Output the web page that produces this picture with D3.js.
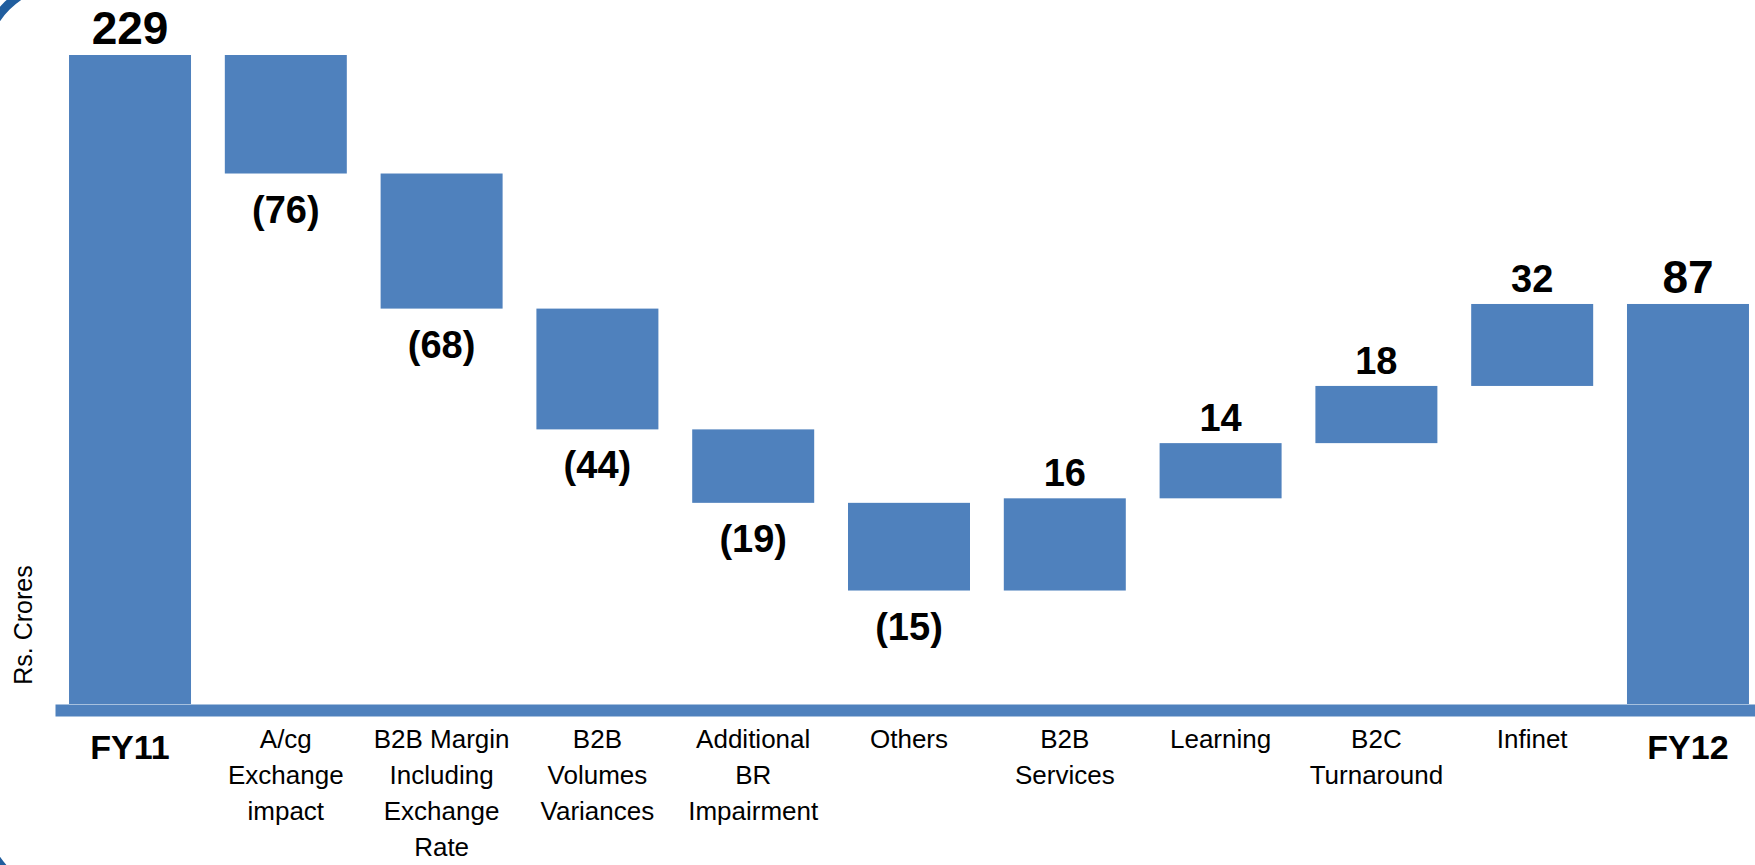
<!DOCTYPE html>
<html>
<head>
<meta charset="utf-8">
<script src="https://cdn.jsdelivr.net/npm/d3@7"></script>
<style>
  html, body { margin: 0; padding: 0; background: #fff; }
  svg { display: block; font-family: "Liberation Sans", Arial, sans-serif; }
</style>
</head>
<body>
<svg id="chart" width="1755" height="865"></svg>
<script>
// Chart values (Rs. Crores)
var labelLines = [
    ["FY11"],
    ["A/cg", "Exchange", "impact"],
    ["B2B Margin", "Including", "Exchange", "Rate"],
    ["B2B", "Volumes", "Variances"],
    ["Additional", "BR", "Impairment"],
    ["Others"],
    ["B2B", "Services"],
    ["Learning"],
    ["B2C", "Turnaround"],
    ["Infinet"],
    ["FY12"]
];
var values = [229, -76, -68, -44, -19, -15, 16, 14, 18, 32, 87];
var isTotal = [true, false, false, false, false, false, false, false, false, false, true];
var valueLabels = ["229", "(76)", "(68)", "(44)", "(19)", "(15)", "16", "14", "18", "32", "87"];

var svg = d3.select("#chart");
var barColor = "#4F81BD";
var axisY = 710;

// build waterfall steps
var running = 0;
var steps = values.map(function(v, i) {
    var s;
    if (isTotal[i]) {
        s = {start: 0, end: v};
        running = v;
    } else {
        s = {start: running, end: running + v};
        running += v;
    }
    s.i = i;
    s.value = v;
    s.total = isTotal[i];
    s.label = valueLabels[i];
    s.lines = labelLines[i];
    return s;
});

var x = d3.scaleBand()
    .domain(d3.range(values.length))
    .range([55, 1763])
    .paddingInner(0.217)
    .paddingOuter(0.09);

var yMax = d3.max(steps, function(d) { return Math.max(d.start, d.end); });
var y = d3.scaleSqrt()
    .domain([0, yMax])
    .range([704, 55]);

// slide frame corner (partly off screen)
svg.append("rect")
    .attr("x", -17)
    .attr("y", -17)
    .attr("width", 2000)
    .attr("height", 912)
    .attr("rx", 80)
    .attr("fill", "none")
    .attr("stroke", "#215E9E")
    .attr("stroke-width", 9);

// bars
svg.selectAll("rect.bar")
    .data(steps)
    .enter().append("rect")
    .attr("class", "bar")
    .attr("x", function(d) { return x(d.i); })
    .attr("width", x.bandwidth())
    .attr("y", function(d) { return y(Math.max(d.start, d.end)); })
    .attr("height", function(d) { return y(Math.min(d.start, d.end)) - y(Math.max(d.start, d.end)); })
    .attr("fill", barColor);

// X axis as thick blue baseline
var xAxis = d3.axisBottom(x).tickSize(0).tickSizeOuter(0).tickFormat("");
var ax = svg.append("g")
    .attr("transform", "translate(0," + axisY + ")")
    .call(xAxis);
ax.select(".domain")
    .attr("stroke", barColor)
    .attr("stroke-width", 12);
ax.selectAll(".tick").remove();

// value labels
svg.selectAll("text.val")
    .data(steps)
    .enter().append("text")
    .attr("class", "val")
    .attr("x", function(d) { return x(d.i) + x.bandwidth() / 2; })
    .attr("y", function(d) {
        if (d.total) return y(d.end) - 11;
        if (d.value < 0) return y(d.end) + 49;
        return y(d.end) - 12;
    })
    .attr("text-anchor", "middle")
    .attr("font-weight", "bold")
    .attr("font-size", function(d) { return d.total ? 46 : 38; })
    .attr("fill", "#000")
    .text(function(d) { return d.label; });

// category labels
var cat = svg.selectAll("text.cat")
    .data(steps)
    .enter().append("text")
    .attr("class", "cat")
    .attr("text-anchor", "middle")
    .attr("font-size", function(d) { return d.total ? 34 : 26; })
    .attr("font-weight", function(d) { return d.total ? "bold" : "normal"; })
    .attr("fill", "#000");

cat.selectAll("tspan")
    .data(function(d) { return d.lines.map(function(l) { return {t: l, d: d}; }); })
    .enter().append("tspan")
    .attr("x", function(o) { return x(o.d.i) + x.bandwidth() / 2; })
    .attr("y", function(o, j) { return (o.d.total ? 759 : 748) + j * 36; })
    .text(function(o) { return o.t; });

// y label
svg.append("text")
    .attr("transform", "translate(32,625) rotate(-90)")
    .attr("text-anchor", "middle")
    .attr("font-size", 25)
    .attr("fill", "#000")
    .text("Rs. Crores");
</script>
</body>
</html>
